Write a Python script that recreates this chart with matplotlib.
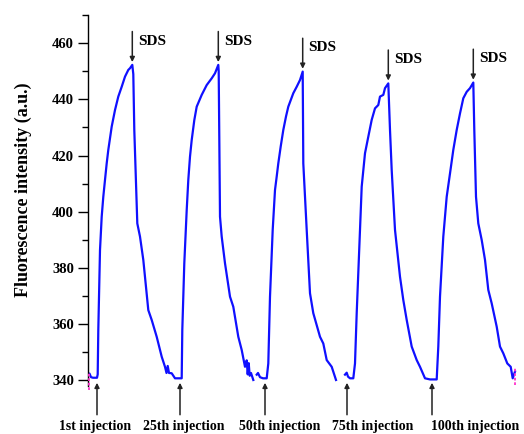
import numpy as np
import matplotlib.pyplot as plt
from matplotlib.transforms import blended_transform_factory

# no x scale in the figure: time is in arbitrary units
# trace is recorded in three pieces (gaps before 50th and 75th injection)
seg1_t = [0, 1.5, 3, 5, 9, 9.7, 10.3, 12, 13.7, 15.3, 17, 18.7, 20.3, 23.7, 27, 30.3,
          33.7, 37, 40.3, 42, 44.3, 45.3, 46.3, 49.3, 52, 55.3, 60.3, 63.7, 68.7, 73.7,
          77, 78.5, 79.7, 81, 83.7, 87, 92, 93.7, 94.3, 96.3, 98.7, 100.3, 102, 103.7,
          106.3, 108.7, 113.7, 118.7, 123.7, 127, 130.3, 130.7, 132, 133.7, 137, 142,
          145.3, 150.3, 153.7, 157, 158.7, 159.7, 160.7, 161.7, 163, 165.3]
seg1_y = [341.5, 342.3, 341, 340.8, 340.8, 342, 357.8, 386.3, 398.2, 405.3, 411.3, 417.2,
          422, 430.3, 436.2, 441, 444.5, 448.1, 450.5, 451.1, 452.3, 449, 429.1, 395.8,
          391.1, 382.8, 364.9, 361.4, 355.4, 348.3, 344.7, 342.5, 345, 342.5, 342.4,
          340.6, 340.6, 340.6, 357.8, 381.6, 400.5, 411.3, 419.6, 425.5, 432.6, 437.4,
          441.6, 445.1, 447.5, 449.3, 452.3, 450, 398.2, 391.1, 381.6, 369.7, 366.1,
          355.4, 350.7, 344.7, 347, 342, 346, 341.5, 342.5, 340]

seg2_t = [168.7, 170, 172, 175, 178.7, 180.3, 182, 184.7, 187, 188.7, 190.3, 192.7, 195.3,
          198, 200.3, 205.3, 208.7, 212, 214.7, 215.3, 218.7, 222, 225.3, 232, 235.3,
          238.7, 243.7, 248]
seg2_y = [341.9, 342.5, 341, 340.6, 340.6, 345.9, 369.7, 393.5, 407.7, 412.5, 417.2,
          423.2, 429.1, 433.9, 437.4, 442.2, 444.5, 446.9, 449.9, 417.2, 393.5, 370.9,
          363.8, 355.4, 353, 347.1, 344.7, 340]

seg3_t = [257, 258.7, 260, 262, 265.3, 267, 268.7, 272, 273.7, 277, 280.3, 283.7, 287,
          290.3, 292, 295.3, 297, 300.3, 302, 303.7, 307, 312, 315.3, 318.7, 323.7, 328.7,
          332, 337, 342, 348.7, 350.3, 352, 355.3, 358.7, 362, 365.3, 368.7, 372, 375.3,
          378.7, 382, 385.3, 386.3, 388, 390.3, 393.7, 397, 400.3, 403.7, 408.7, 412,
          415.3, 419.3, 422.7, 424.7, 427]
seg3_y = [341.9, 342.6, 341.2, 340.6, 340.6, 345.9, 363.8, 393.5, 408.9, 420.8, 426.7,
          432.7, 436.8, 438, 441, 441.6, 444, 445.7, 429.1, 414.8, 393.5, 376.8, 368.5,
          361.4, 351.9, 347.1, 344.7, 340.6, 340.2, 340.2, 351.9, 369.7, 391.1, 405.3,
          413.6, 422, 429.1, 435, 440.4, 442.7, 444, 446, 429.1, 405.3, 395.8, 389.9,
          382.8, 372.1, 367.3, 359, 351.9, 349.5, 345.9, 344.7, 340.6, 343]

inj_t = [9, 92, 177, 259, 344]
inj_labels = ['1st injection', '25th injection', '50th injection',
              '75th injection', '100th injection']
label_t = [7, 96, 192, 285, 387]
sds_t = [44.3, 130.3, 214.7, 300.3, 385.3]

cursor_t = [0.5, 427]
cursor_lo = [336.4, 338.2]
cursor_hi = [342.5, 344.7]

serif = 'Liberation Serif'

fig = plt.figure(figsize=(5.24, 4.34), dpi=100)
ax = fig.add_axes([88 / 524, 1 - 385.6 / 434, 432 / 524, 370.4 / 434])

for t, y in [(seg1_t, seg1_y), (seg2_t, seg2_y), (seg3_t, seg3_y)]:
    ax.plot(t, y, color='#1010ff', lw=1.6, solid_joinstyle='round')

for t, lo, hi in zip(cursor_t, cursor_lo, cursor_hi):
    ax.plot([t, t], [lo, hi], color='#ff33cc', lw=1.3, ls=(0, (1.5, 1)),
            clip_on=False, zorder=5)

ax.set_xlim(0, 432)
ax.set_ylim(338, 470)
ax.set_yticks(np.arange(340, 461, 20))
ax.set_yticks(np.arange(340, 471, 10), minor=True)
ax.tick_params(axis='y', which='major', direction='out', length=7, width=1,
               labelsize=10.5, pad=3)
ax.tick_params(axis='y', which='minor', direction='out', length=4, width=1)
ax.set_xticks([])
for s in ['top', 'right', 'bottom']:
    ax.spines[s].set_visible(False)
ax.spines['left'].set_linewidth(1)
for lab in ax.get_yticklabels():
    lab.set_fontfamily(serif)
    lab.set_fontweight('bold')

ax.set_ylabel('Fluorescence intensity (a.u.)', fontfamily=serif, fontweight='bold',
              fontsize=13)
ax.yaxis.set_label_coords(-0.13, 0.53)

all_t = np.array(seg1_t + seg2_t + seg3_t)
all_y = np.array(seg1_y + seg2_y + seg3_y)

# SDS arrows above each peak
for t in sds_t:
    near = np.abs(all_t - t) < 2
    peak = all_y[near].max()
    ax.annotate('', xy=(t, peak + 1), xytext=(0, 22), textcoords='offset points',
                arrowprops=dict(arrowstyle='-|>', color='#222222', lw=1.1,
                                mutation_scale=7, shrinkA=0, shrinkB=0))
    ax.annotate('SDS', xy=(t, peak + 1), xytext=(4, 15), textcoords='offset points',
                ha='left', va='center', fontfamily=serif, fontweight='bold',
                fontsize=11)

# injection arrows below the baseline
for t in inj_t:
    ax.annotate('', xy=(t, 339), xytext=(0, -23), textcoords='offset points',
                annotation_clip=False,
                arrowprops=dict(arrowstyle='-|>', color='#222222', lw=1.1,
                                mutation_scale=7, shrinkA=0, shrinkB=0))

trans = blended_transform_factory(ax.transData, ax.transAxes)
for t, lab in zip(label_t, inj_labels):
    ax.text(t, -0.11, lab, transform=trans, ha='center', va='center',
            fontfamily=serif, fontweight='bold', fontsize=10)

fig.savefig('out.png', dpi=100)
